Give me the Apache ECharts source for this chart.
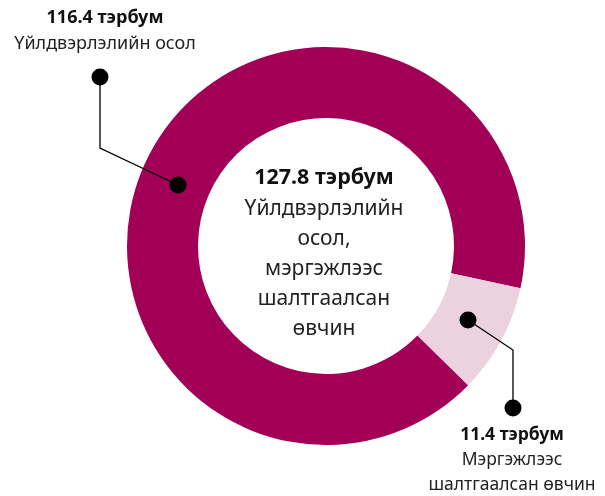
<!DOCTYPE html>
<html><head><meta charset="utf-8">
<script src="https://cdn.jsdelivr.net/npm/echarts@6/dist/echarts.min.js"></script>
<style>html,body{margin:0;padding:0;background:#fff}#c{width:605px;height:496px}</style>
</head><body><div id="c"></div>
<script>
const categories = ['Үйлдвэрлэлийн осол', 'Мэргэжлээс шалтгаалсан өвчин'];
const values = [116.4, 11.4];
const valueLabels = ['116.4 тэрбум', '11.4 тэрбум'];
const totalLabel = '127.8 тэрбум';
const totalText = 'Үйлдвэрлэлийн\nосол,\nмэргэжлээс\nшалтгаалсан\nөвчин';
const colors = ['#a10056', '#ecd1de'];

const chart = echarts.init(document.getElementById('c'), null, {renderer: 'canvas'});
const F = '"Noto Sans", "Open Sans", sans-serif';
const cx = 326, cy = 246;
const dotStyle = {fill: '#000'};
const lineStyle = {stroke: '#000', lineWidth: 1.3, fill: null};

chart.setOption({
  animation: false,
  series: [{
    type: 'pie',
    center: [cx, cy],
    radius: [128, 199],
    startAngle: -44.4,
    clockwise: true,
    label: {show: false},
    labelLine: {show: false},
    emphasis: {disabled: true},
    itemStyle: {borderWidth: 0},
    data: values.map((v, i) => ({name: categories[i], value: v, itemStyle: {color: colors[i]}}))
  }],
  graphic: [
    {type: 'polyline', shape: {points: [[100, 77], [100, 148], [178, 185]]}, style: lineStyle, z: 10},
    {type: 'circle', shape: {cx: 100, cy: 77, r: 8.5}, style: dotStyle, z: 11},
    {type: 'circle', shape: {cx: 178, cy: 185, r: 8.5}, style: dotStyle, z: 11},
    {type: 'polyline', shape: {points: [[468, 320], [513, 350], [513, 408]]}, style: lineStyle, z: 10},
    {type: 'circle', shape: {cx: 468, cy: 320, r: 8.5}, style: dotStyle, z: 11},
    {type: 'circle', shape: {cx: 513, cy: 408, r: 8.5}, style: dotStyle, z: 11},
    {type: 'text', x: 105, y: 5, z: 12, style: {
      text: '{b|' + valueLabels[0] + '}\n{n|' + categories[0] + '}',
      align: 'center', verticalAlign: 'top',
      rich: {b: {fontFamily: F, fontSize: 18, fontWeight: 'bold', fill: '#111', lineHeight: 26},
             n: {fontFamily: F, fontSize: 18, fill: '#222', lineHeight: 26}}
    }},
    {type: 'text', x: 512, y: 423, z: 12, style: {
      text: '{b|' + valueLabels[1] + '}\n{n|Мэргэжлээс}\n{n|шалтгаалсан өвчин}',
      align: 'center', verticalAlign: 'top',
      rich: {b: {fontFamily: F, fontSize: 17.5, fontWeight: 'bold', fill: '#111', lineHeight: 25},
             n: {fontFamily: F, fontSize: 17.5, fill: '#222', lineHeight: 25}}
    }},
    {type: 'text', x: 324, y: 162, z: 12, style: {
      text: '{b|' + totalLabel + '}\n' + totalText.split('\n').map(s => '{n|' + s + '}').join('\n'),
      align: 'center', verticalAlign: 'top',
      rich: {b: {fontFamily: F, fontSize: 21.5, fontWeight: 'bold', fill: '#111', lineHeight: 32},
             n: {fontFamily: F, fontSize: 21, fill: '#222', lineHeight: 30}}
    }}
  ]
});
</script></body></html>
